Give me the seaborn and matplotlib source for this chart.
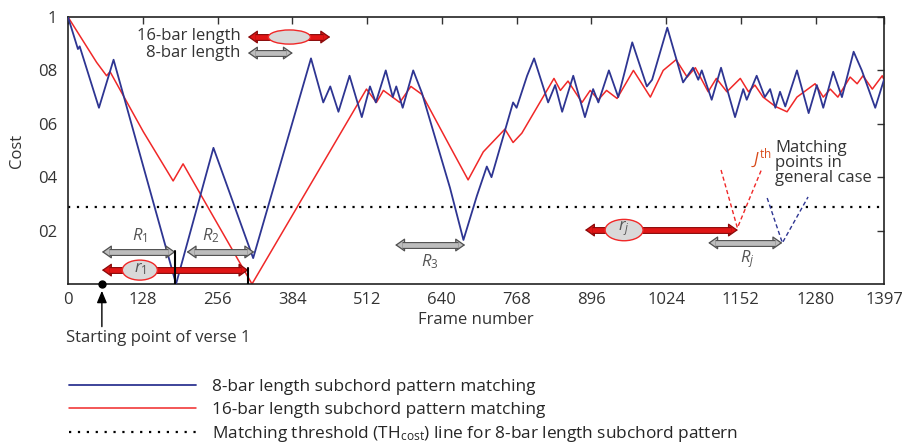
import numpy as np
import pandas as pd
import matplotlib
matplotlib.use("Agg")
import matplotlib.pyplot as plt
import matplotlib.patheffects as pe
from matplotlib.patches import Ellipse
import seaborn as sns

# ---------------- data ----------------
blue_frames = [0, 17, 20, 53, 78, 185, 249, 317, 416, 437, 449, 463, 482, 503, 517, 527, 544,
               556, 562, 573, 591, 606, 654, 677, 700, 717, 725, 762, 768, 786, 798, 822, 834,
               846, 865, 885, 899, 908, 926, 942, 966, 991, 1000, 1026, 1053, 1070, 1079, 1085,
               1102, 1118, 1142, 1156, 1162, 1179, 1193, 1202, 1211, 1219, 1228, 1248, 1268,
               1282, 1293, 1310, 1325, 1345, 1359, 1382, 1397]
blue_cost = [1.0, 0.88, 0.89, 0.66, 0.84, 0.0, 0.51, 0.097, 0.845, 0.68, 0.74, 0.645, 0.78,
             0.625, 0.74, 0.68, 0.80, 0.70, 0.74, 0.66, 0.80, 0.715, 0.36, 0.165, 0.33, 0.44,
             0.40, 0.68, 0.66, 0.78, 0.845, 0.68, 0.745, 0.645, 0.78, 0.625, 0.73, 0.68, 0.80,
             0.70, 0.905, 0.74, 0.765, 0.96, 0.755, 0.81, 0.765, 0.80, 0.69, 0.81, 0.625, 0.73,
             0.69, 0.78, 0.70, 0.73, 0.66, 0.72, 0.665, 0.80, 0.64, 0.745, 0.66, 0.795, 0.70,
             0.87, 0.80, 0.66, 0.765]

red_frames = [0, 49, 66, 72, 129, 180, 197, 315, 511, 528, 540, 568, 587, 606, 654, 685, 711,
              748, 762, 777, 832, 843, 856, 880, 894, 908, 922, 940, 968, 997, 1019, 1041, 1060,
              1074, 1096, 1110, 1128, 1151, 1165, 1176, 1190, 1211, 1231, 1248, 1279, 1293,
              1305, 1318, 1339, 1351, 1361, 1377, 1394, 1397]
red_cost = [1.0, 0.83, 0.78, 0.795, 0.57, 0.386, 0.45, 0.0, 0.73, 0.68, 0.725, 0.68, 0.74,
            0.71, 0.515, 0.39, 0.495, 0.58, 0.53, 0.565, 0.77, 0.725, 0.76, 0.68, 0.725, 0.69,
            0.725, 0.695, 0.80, 0.70, 0.80, 0.84, 0.775, 0.81, 0.72, 0.77, 0.72, 0.77, 0.72,
            0.745, 0.70, 0.665, 0.645, 0.70, 0.75, 0.70, 0.73, 0.70, 0.775, 0.75, 0.78, 0.73,
            0.78, 0.765]

threshold = 0.29
x_ticks = [0, 128, 256, 384, 512, 640, 768, 896, 1024, 1152, 1280, 1397]
y_ticks = [0.2, 0.4, 0.6, 0.8, 1.0]
y_tick_labels = ["02", "04", "06", "08", "1"]

labels = ["8-bar length subchord pattern matching",
          "16-bar length subchord pattern matching",
          "Matching threshold (TH$_{\\mathrm{cost}}$) line for 8-bar length subchord pattern"]

# ---------------- plot ----------------
sns.set_theme(style="white")
plt.rcParams['font.family'] = ['Open Sans', 'DejaVu Sans']
plt.rcParams['mathtext.fontset'] = 'custom'
plt.rcParams['mathtext.rm'] = 'Open Sans'
plt.rcParams['mathtext.it'] = 'Open Sans:italic'

FS = 12
TXT = '#333333'

fig = plt.figure(figsize=(9.03, 4.43), dpi=100)
ax = fig.add_axes([68/903, 1-284/443, (884-68)/903, (284-17)/443])

BLUE = '#2e3592'
RED = '#f02828'

df_b = pd.DataFrame({'frame': blue_frames, 'cost': blue_cost})
df_r = pd.DataFrame({'frame': red_frames, 'cost': red_cost})
sns.lineplot(data=df_b, x='frame', y='cost', ax=ax, color=BLUE, lw=1.3, label=labels[0], zorder=3)
sns.lineplot(data=df_r, x='frame', y='cost', ax=ax, color=RED, lw=1.1, label=labels[1], zorder=2)
ax.axhline(threshold, color='black', ls=(0, (1, 3)), lw=1.6, label=labels[2], zorder=1)

ax.set_xlim(0, 1397)
ax.set_ylim(0, 1.0)
ax.set_xticks(x_ticks)
ax.set_xticklabels([str(t) for t in x_ticks], fontsize=FS, color=TXT)
ax.set_yticks(y_ticks)
ax.set_yticklabels(y_tick_labels, fontsize=FS, color=TXT)
ax.tick_params(direction='in', length=5, width=1, top=True, right=True, colors='#333333',
               labelcolor=TXT)
ax.tick_params(axis='x', pad=6)
ax.tick_params(axis='y', pad=8)
for s in ax.spines.values():
    s.set_color('#222222')
    s.set_linewidth(1.2)
ax.set_xlabel("Frame number", fontsize=FS, color=TXT, labelpad=3)
ax.set_ylabel("Cost", fontsize=FS, color=TXT, labelpad=9)
ax.get_legend().remove()

handles, _ = ax.get_legend_handles_labels()
fig.legend(handles, labels, loc='upper left', bbox_to_anchor=(69/903, 1-379/443),
           frameon=False, fontsize=12.4, handlelength=7.4, handletextpad=0.9,
           labelspacing=0.38, borderaxespad=0, borderpad=0)

GREY = '#bdbdbd'
GEDGE = '#505050'
REDA = '#e01515'
REDGE = '#8a0a0a'
HEAD = 13  # head length in frames (about 7-8 px)


def darrow(x1, x2, y, face, edge):
    ax.annotate('', xy=(x2, y), xytext=(x1, y),
                arrowprops=dict(arrowstyle='<|-|>,head_length=0.6,head_width=0.42',
                                mutation_scale=10, lw=0.9, fc=face, ec=edge,
                                shrinkA=0, shrinkB=0),
                zorder=5, annotation_clip=False)
    ax.plot([x1 + HEAD * 0.95, x2 - HEAD * 0.95], [y, y], color=face, lw=3.4,
            solid_capstyle='butt', zorder=6,
            path_effects=[pe.Stroke(linewidth=5.0, foreground=edge), pe.Normal()])


# legend-like arrows at top
ax.text(295, 0.927, "16-bar length", ha='right', va='center', fontsize=FS, color=TXT)
darrow(308, 449, 0.925, REDA, REDGE)
ax.add_patch(Ellipse((379, 0.925), 72, 0.053, facecolor='#d9d9d9', edgecolor=RED, lw=1,
                     zorder=7))
ax.text(295, 0.865, "8-bar length", ha='right', va='center', fontsize=FS, color=TXT)
darrow(308, 385, 0.865, GREY, GEDGE)

# R1, R2, r1
darrow(58, 184, 0.12, GREY, GEDGE)
darrow(203, 319, 0.12, GREY, GEDGE)
ax.text(123, 0.18, "$R_1$", ha='center', va='center', fontsize=FS, color='#555555')
ax.text(245, 0.18, "$R_2$", ha='center', va='center', fontsize=FS, color='#555555')
darrow(58, 309, 0.052, REDA, REDGE)
ax.add_patch(Ellipse((123, 0.052), 60, 0.075, facecolor='#d9d9d9', edgecolor=RED, lw=1, zorder=7))
ax.text(123, 0.056, "$r_1$", ha='center', va='center', fontsize=FS, color='#555555', zorder=8)
ax.plot([184, 184], [0, 0.125], color='black', lw=1.5, zorder=7)
ax.plot([309, 309], [0, 0.06], color='black', lw=1.5, zorder=7)

# R3
darrow(560, 680, 0.146, GREY, GEDGE)
ax.text(620, 0.082, "$R_3$", ha='center', va='center', fontsize=FS, color='#555555')

# rj, Rj
darrow(885, 1147, 0.202, REDA, REDGE)
ax.add_patch(Ellipse((952, 0.202), 65, 0.08, facecolor='#d9d9d9', edgecolor=RED, lw=1, zorder=7))
ax.text(952, 0.208, "$r_j$", ha='center', va='center', fontsize=FS, color='#555555', zorder=8)
darrow(1096, 1223, 0.154, GREY, GEDGE)
ax.text(1163, 0.095, "$R_j$", ha='center', va='center', fontsize=FS, color='#555555')

ax.plot([1118, 1146, 1187], [0.427, 0.21, 0.427], color=RED, ls=(0, (3, 2)), lw=1, zorder=4)
ax.plot([1197, 1223, 1267], [0.322, 0.154, 0.326], color=BLUE, ls=(0, (3, 2)), lw=1, zorder=4)
ax.text(1170, 0.468, "$J^{\\mathrm{th}}$", ha='left', va='center', fontsize=FS, color='#d84a1a')
ax.text(1211, 0.54, "Matching\npoints in\ngeneral case", ha='left', va='top', fontsize=FS,
        color=TXT, linespacing=0.92)

# starting point
ax.plot([58], [0], 'o', color='black', ms=5, clip_on=False, zorder=8)
ax.annotate('', xy=(58, -0.015), xytext=(58, -0.17),
            arrowprops=dict(arrowstyle='-|>,head_length=0.6,head_width=0.25', color='black', lw=1),
            annotation_clip=False)
fig.text(66/903, 1-338/443, "Starting point of verse 1", ha='left', va='center', fontsize=FS,
         color=TXT)

fig.savefig("out.png", dpi=100)
